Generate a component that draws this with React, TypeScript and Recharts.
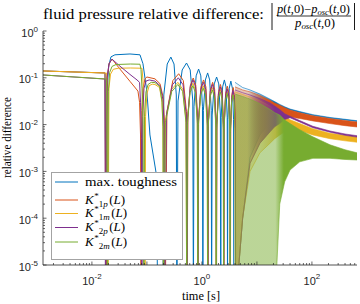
import React from 'react';
import { ComposedChart, Line, Area, XAxis, YAxis, Legend } from 'recharts';

type P = [number, number];

// ---------------- data (time [s], relative difference) ----------------
const maxToughness: P[] = [
  [0.00129, 0.14], [0.0173, 0.127], [0.0183, 1e-6], [0.019, 0.06], [0.0202, 0.18], [0.0222, 0.28],
  [0.0262, 0.31], [0.0492, 0.323], [0.0748, 0.31], [0.0847, 0.2], [0.1, 0.05], [0.1135, 0.006],
  [0.15, 0.0008], [0.157, 1e-6], [0.195, 1e-6],
  [0.2028, 0.043], [0.234, 0.197], [0.2725, 0.277], [0.311, 0.197], [0.342, 0.043], [0.35, 1e-6],
  [0.3675, 0.032], [0.4375, 0.147], [0.525, 0.207], [0.6125, 0.147], [0.6825, 0.032], [0.7, 1e-6],
  [0.717, 0.024], [0.785, 0.11], [0.87, 0.154], [0.955, 0.11], [1.023, 0.024], [1.04, 1e-6],
  [1.063, 0.02], [1.155, 0.09], [1.27, 0.127], [1.385, 0.09], [1.477, 0.02], [1.5, 1e-6],
  [1.535, 0.016], [1.675, 0.074], [1.85, 0.104], [2.025, 0.074], [2.165, 0.016], [2.2, 1e-6],
  [2.236, 0.014], [2.38, 0.064], [2.56, 0.09], [2.74, 0.064], [2.884, 0.014], [2.92, 1e-6],
  [2.964, 0.013], [3.14, 0.06], [3.36, 0.085], [3.58, 0.06], [3.756, 0.013], [3.8, 1e-6],
];

const k1p: P[] = [
  [0.00129, 0.14], [0.0173, 0.127], [0.018, 1e-6], [0.019, 0.1], [0.0205, 0.2], [0.0232, 0.252],
  [0.0324, 0.153], [0.0492, 0.084], [0.0687, 0.052], [0.0735, 0.03], [0.0765, 0.006], [0.078, 1e-6],
  [0.0805, 0.02], [0.0847, 0.06], [0.0923, 0.095], [0.1, 0.104], [0.14, 0.095], [0.1726, 0.075],
  [0.196, 0.04], [0.208, 0.012], [0.215, 1e-6],
  [0.231, 0.019], [0.296, 0.087], [0.378, 0.122], [0.459, 0.087], [0.524, 0.019], [0.54, 1e-6],
  [0.5555, 0.015], [0.6175, 0.07], [0.695, 0.099], [0.7725, 0.07], [0.8345, 0.015], [0.85, 1e-6],
  [0.872, 0.014], [0.96, 0.064], [1.07, 0.09], [1.18, 0.064], [1.268, 0.014], [1.29, 1e-6],
  [1.3175, 0.0125], [1.4275, 0.057], [1.565, 0.08], [1.7025, 0.057], [1.8125, 0.0125], [1.84, 1e-6],
  [1.873, 0.011], [2.005, 0.051], [2.17, 0.072], [2.335, 0.051], [2.467, 0.011], [2.5, 1e-6],
  [2.54, 0.01], [2.7, 0.047], [2.9, 0.066], [3.1, 0.047], [3.26, 0.01], [3.3, 1e-6],
  [3.34, 0.0097], [3.5, 0.044], [3.7, 0.062], [3.9, 0.044], [4.06, 0.0097], [4.1, 1e-6],
];

const k1m: P[] = [
  [0.00129, 0.14], [0.0185, 0.126], [0.0196, 1e-6], [0.0204, 0.06], [0.0218, 0.12], [0.0245, 0.152],
  [0.03, 0.16], [0.05, 0.162], [0.0813, 0.16], [0.0847, 0.09], [0.0885, 0.02], [0.0915, 0.002], [0.0923, 1e-6],
  [0.0945, 0.015], [0.1, 0.045], [0.11, 0.068], [0.125, 0.073], [0.14, 0.072], [0.17, 0.062],
  [0.188, 0.03], [0.196, 0.008], [0.2, 1e-6],
  [0.2165, 0.0125], [0.2825, 0.057], [0.365, 0.08], [0.4475, 0.057], [0.5135, 0.0125], [0.53, 1e-6],
  [0.5455, 0.012], [0.6075, 0.055], [0.685, 0.077], [0.7625, 0.055], [0.8245, 0.012], [0.84, 1e-6],
  [0.8615, 0.0106], [0.9475, 0.048], [1.055, 0.068], [1.1625, 0.048], [1.2485, 0.0106], [1.27, 1e-6],
  [1.2975, 0.0097], [1.4075, 0.044], [1.545, 0.062], [1.6825, 0.044], [1.7925, 0.0097], [1.82, 1e-6],
  [1.853, 0.0087], [1.985, 0.04], [2.15, 0.056], [2.315, 0.04], [2.447, 0.0087], [2.48, 1e-6],
  [2.519, 0.0078], [2.675, 0.0355], [2.87, 0.05], [3.065, 0.0355], [3.221, 0.0078], [3.26, 1e-6],
  [3.3, 0.0073], [3.46, 0.033], [3.66, 0.047], [3.86, 0.033], [4.02, 0.0073], [4.06, 1e-6],
];

const k2p: P[] = [
  [0.00129, 0.115], [0.0173, 0.094], [0.0176, 1e-6], [0.0188, 0.1], [0.0205, 0.2], [0.0232, 0.25],
  [0.0324, 0.177], [0.0492, 0.118], [0.066, 0.09], [0.0735, 0.08], [0.0765, 0.03], [0.0795, 0.005], [0.081, 1e-6],
  [0.0835, 0.015], [0.0885, 0.06], [0.0962, 0.085], [0.11, 0.09], [0.14, 0.085], [0.1726, 0.068],
  [0.195, 0.035], [0.205, 0.01], [0.21, 1e-6],
  [0.226, 0.016], [0.291, 0.071], [0.3725, 0.1], [0.454, 0.071], [0.519, 0.016], [0.535, 1e-6],
  [0.5505, 0.014], [0.6125, 0.064], [0.69, 0.09], [0.7675, 0.064], [0.8295, 0.014], [0.845, 1e-6],
  [0.867, 0.0125], [0.954, 0.057], [1.0625, 0.08], [1.171, 0.057], [1.258, 0.0125], [1.28, 1e-6],
  [1.3075, 0.011], [1.4175, 0.051], [1.555, 0.072], [1.6925, 0.051], [1.8025, 0.011], [1.83, 1e-6],
  [1.863, 0.01], [1.995, 0.045], [2.16, 0.064], [2.325, 0.045], [2.457, 0.01], [2.49, 1e-6],
  [2.53, 0.009], [2.6875, 0.041], [2.885, 0.058], [3.0825, 0.041], [3.24, 0.009], [3.28, 1e-6],
  [3.32, 0.0084], [3.48, 0.038], [3.68, 0.054], [3.88, 0.038], [4.04, 0.0084], [4.08, 1e-6],
];

const k2m: P[] = [
  [0.00129, 0.115], [0.0185, 0.094], [0.0192, 1e-6], [0.0199, 0.05], [0.021, 0.13], [0.0232, 0.175],
  [0.0274, 0.192], [0.05, 0.197], [0.0748, 0.195], [0.078, 0.15], [0.0813, 0.06], [0.085, 0.01], [0.088, 1e-6],
  [0.0905, 0.015], [0.096, 0.05], [0.105, 0.072], [0.12, 0.08], [0.14, 0.079], [0.17, 0.066],
  [0.188, 0.032], [0.196, 0.009], [0.2, 1e-6],
  [0.2165, 0.011], [0.2825, 0.051], [0.365, 0.072], [0.4475, 0.051], [0.5135, 0.011], [0.53, 1e-6],
  [0.5455, 0.0106], [0.6075, 0.048], [0.685, 0.068], [0.7625, 0.048], [0.8245, 0.0106], [0.84, 1e-6],
  [0.8615, 0.0094], [0.9475, 0.0425], [1.055, 0.06], [1.1625, 0.0425], [1.2485, 0.0094], [1.27, 1e-6],
  [1.2975, 0.0086], [1.4075, 0.039], [1.545, 0.055], [1.6825, 0.039], [1.7925, 0.0086], [1.82, 1e-6],
  [1.853, 0.0078], [1.985, 0.0355], [2.15, 0.05], [2.315, 0.0355], [2.447, 0.0078], [2.48, 1e-6],
  [2.519, 0.0072], [2.675, 0.0327], [2.87, 0.046], [3.065, 0.0327], [3.221, 0.0072], [3.26, 1e-6],
  [3.3, 0.0067], [3.46, 0.0305], [3.66, 0.043], [3.86, 0.0305], [4.02, 0.0067], [4.06, 1e-6],
];

// dense oscillation envelopes (lower, upper) after t ~ 4 s
const bandT = [4, 5.5, 7.5, 11.35, 17.3, 21, 26, 32, 40, 60, 104, 213, 400, 660];
const blueHi = [0.08, 0.062, 0.055, 0.045, 0.035, 0.031, 0.027, 0.024, 0.0215, 0.019, 0.0163, 0.0142, 0.013, 0.0121];
const blueLo = [1e-6, 1e-4, 0.002, 0.006, 0.011, 0.014, 0.017, 0.019, 0.0205, 0.018, 0.0156, 0.0136, 0.0125, 0.0117];
const orangeHi = [0.064, 0.055, 0.05, 0.042, 0.033, 0.029, 0.026, 0.023, 0.0205, 0.018, 0.0155, 0.0135, 0.0122, 0.0114];
const orangeLo = [1e-6, 1e-4, 0.0015, 0.004, 0.007, 0.009, 0.011, 0.013, 0.0145, 0.0135, 0.012, 0.0105, 0.0095, 0.0089];
const yellowHi = [0.05, 0.044, 0.039, 0.032, 0.025, 0.021, 0.018, 0.015, 0.0127, 0.0105, 0.0082, 0.0065, 0.0059, 0.0056];
const yellowLo = [1e-6, 1e-4, 0.001, 0.0025, 0.004, 0.005, 0.006, 0.007, 0.0085, 0.0075, 0.006, 0.005, 0.0045, 0.0042];
const purpleHi = [0.055, 0.048, 0.043, 0.036, 0.029, 0.025, 0.021, 0.017, 0.015, 0.0122, 0.0092, 0.0073, 0.0063, 0.0058];
const purpleLo = [1e-6, 1e-4, 0.0015, 0.004, 0.007, 0.009, 0.0105, 0.0128, 0.014, 0.0114, 0.0086, 0.0069, 0.0059, 0.0054];
const greenHi = [0.045, 0.04, 0.035, 0.028, 0.021, 0.018, 0.016, 0.0125, 0.0105, 0.0078, 0.0055, 0.0037, 0.0029, 0.0025];
const greenLo = [1e-6, 1e-6, 1e-6, 1e-6, 1e-6, 1e-6, 2e-4, 6e-4, 0.00107, 0.0016, 0.0019, 0.0019, 0.0018, 0.00175];

const seriesSubs = ['', '1p', '1m', '2p', '2m'];
const seriesLabels = ['max. toughness', 'K*1p(L)', 'K*1m(L)', 'K*2p(L)', 'K*2m(L)'];
const colors = ['#0072BD', '#D95319', '#EDB120', '#7E2F8E', '#77AC30'];

const xDomain: [number, number] = [0.00129, 660];
const yDomain: [number, number] = [1e-5, 1];
const xLabelExps = [-2, 0, 2];
const minorMults = [2, 3, 4, 5, 6, 7, 8, 9];
const xDecades = [-3, -2, -1, 0, 1, 2];
const yDecades = [-5, -4, -3, -2, -1];

// ---------------- build ----------------
const toPts = (a: P[]) => a.map(([t, v]) => ({ t, v }));
const toBand = (lo: number[], hi: number[]) => bandT.map((t, i) => ({ t, r: [lo[i], hi[i]] }));

const lineData = [maxToughness, k1p, k1m, k2p, k2m].map(toPts);
const bandData = [
  toBand(blueLo, blueHi),
  toBand(orangeLo, orangeHi),
  toBand(yellowLo, yellowHi),
  toBand(purpleLo, purpleHi),
  toBand(greenLo, greenHi),
];

// curtain (dense oscillation) opacity and where the band becomes solid
const curtainOpacity = [0.07, 0.3, 0.3, 0.07, 0.5];
const curtainEnd = [0.1, 0.12, 0.2, 0.1, 0.33];
const solidFrom = [0.33, 0.28, 0.4, 0.33, 0.4];

const tickSet = (decs: number[], lo: number, hi: number) => {
  const out: number[] = [];
  decs.forEach((d) => {
    const base = Math.pow(10, d);
    if (base >= lo && base <= hi) out.push(base);
    minorMults.forEach((m) => {
      const v = m * base;
      if (v >= lo && v <= hi) out.push(v);
    });
  });
  if (hi >= 1 && lo <= 1 && !out.includes(1)) out.push(1);
  return out.sort((a, b) => a - b);
};
const xTicks = tickSet(xDecades, xDomain[0], xDomain[1]);
const yTicks = tickSet([...yDecades, 0], yDomain[0], yDomain[1]);

const AX = '#262626';
const SANS = "'Liberation Sans', Arial, Helvetica, sans-serif";
const SERIF = "'Liberation Serif', 'Times New Roman', serif";
const MAJ = 3.5;
const MIN = 2;

const isMajor = (v: number) => Math.abs(Math.log10(v) - Math.round(Math.log10(v))) < 1e-9;
const expOf = (v: number) => Math.round(Math.log10(v));

function BottomTick(props: any) {
  const { x, y, payload } = props;
  const v = payload.value;
  const major = isMajor(v);
  const e = expOf(v);
  return (
    <g>
      <line x1={x} y1={y} x2={x} y2={y - (major ? MAJ : MIN)} stroke={AX} strokeWidth={0.7} />
      {major && xLabelExps.includes(e) ? (
        <text x={x} y={y + 20} textAnchor="middle" fill={AX} fontSize={11} fontFamily={SANS}>
          10<tspan dy={-6} fontSize={8}>{String(e)}</tspan>
        </text>
      ) : null}
    </g>
  );
}

function TopTick(props: any) {
  const { x, y, payload } = props;
  const major = isMajor(payload.value);
  return <line x1={x} y1={y} x2={x} y2={y + (major ? MAJ : MIN)} stroke={AX} strokeWidth={0.7} />;
}

function LeftTick(props: any) {
  const { x, y, payload } = props;
  const v = payload.value;
  const major = isMajor(v);
  const e = expOf(v);
  return (
    <g>
      <line x1={x} y1={y} x2={x + (major ? MAJ : MIN)} y2={y} stroke={AX} strokeWidth={0.7} />
      {major ? (
        <text x={x - 5} y={y + 5.5} textAnchor="end" fill={AX} fontSize={11} fontFamily={SANS}>
          10<tspan dy={-5} fontSize={8}>{String(e)}</tspan>
        </text>
      ) : null}
    </g>
  );
}

function RightTick(props: any) {
  const { x, y, payload } = props;
  const major = isMajor(payload.value);
  return <line x1={x} y1={y} x2={x - (major ? MAJ : MIN)} y2={y} stroke={AX} strokeWidth={0.7} />;
}

const legendRowY = [10, 28, 41.5, 55.5, 70];

function LegendLabel({ i, y }: { i: number; y: number }) {
  if (i === 0) {
    return (
      <text x={34} y={y + 4} fontSize={13.5} fontFamily={SERIF} fill="#000" textLength={92} lengthAdjust="spacingAndGlyphs">
        {seriesLabels[0]}
      </text>
    );
  }
  const sub = seriesSubs[i];
  return (
    <text x={34} y={y + 3.5} fontSize={13} fontFamily={SERIF} fill="#000">
      <tspan fontStyle="italic">K</tspan>
      <tspan fontSize={9} dy={-5} dx={0.5}>*</tspan>
      <tspan fontSize={9} dx={0} dy={8}>{sub[0]}</tspan>
      <tspan fontSize={9} fontStyle="italic">{sub[1]}</tspan>
      <tspan dy={-3} dx={1.5}>(</tspan>
      <tspan fontStyle="italic">L</tspan>
      <tspan>)</tspan>
    </text>
  );
}

function LegendBox() {
  return (
    <svg width={132} height={88} style={{ display: 'block' }}>
      <rect x={0.5} y={0.5} width={131} height={87} fill="#fff" stroke="#a3a3a3" strokeWidth={1} />
      {colors.map((c, i) => (
        <g key={i}>
          <line x1={4} y1={legendRowY[i]} x2={27} y2={legendRowY[i]} stroke={c} strokeWidth={1} />
          <LegendLabel i={i} y={legendRowY[i]} />
        </g>
      ))}
    </svg>
  );
}

export default function App() {
  return (
    <div style={{ position: 'absolute', left: 0, top: 0, width: 360, height: 304, background: '#fff' }}>
      <ComposedChart width={360} height={304} margin={{ top: 31, right: 3, bottom: 9, left: 0 }}>
        <XAxis
          dataKey="t" type="number" scale="log" domain={xDomain} allowDataOverflow
          ticks={xTicks} interval={0} tick={BottomTick} tickLine={false} tickSize={0} tickMargin={0}
          height={30} axisLine={{ stroke: AX, strokeWidth: 0.8 }}
        />
        <XAxis
          xAxisId="top" orientation="top" dataKey="t" type="number" scale="log" domain={xDomain} allowDataOverflow
          ticks={xTicks} interval={0} tick={TopTick} tickLine={false} tickSize={0} tickMargin={0}
          height={0} axisLine={{ stroke: AX, strokeWidth: 0.8 }}
        />
        <YAxis
          type="number" scale="log" domain={yDomain} allowDataOverflow
          ticks={yTicks} interval={0} tick={LeftTick} tickLine={false} tickSize={0} tickMargin={0}
          width={43} axisLine={{ stroke: AX, strokeWidth: 0.8 }}
        />
        <YAxis
          yAxisId="right" orientation="right" type="number" scale="log" domain={yDomain} allowDataOverflow
          ticks={yTicks} interval={0} tick={RightTick} tickLine={false} tickSize={0} tickMargin={0}
          width={0} axisLine={{ stroke: AX, strokeWidth: 0.8 }}
        />
        {bandData.map((d, i) => (
          <Area
            key={`a${i}`} data={d} dataKey="r" type="linear" fill={`url(#band${i})`} fillOpacity={1}
            stroke={colors[i]} strokeWidth={0.6} isAnimationActive={false} legendType="none"
            dot={false} activeDot={false}
          />
        ))}
        {lineData.map((d, i) => (
          <Line
            key={`l${i}`} data={d} dataKey="v" type="linear" stroke={colors[i]} strokeWidth={1}
            dot={false} activeDot={false} isAnimationActive={false} legendType="none"
          />
        ))}
        <Legend
          layout="vertical" align="center" verticalAlign="middle"
          wrapperStyle={{ left: 51, top: 172, width: 132, height: 88, margin: 0, padding: 0 }}
          content={LegendBox}
        />
      </ComposedChart>
      <svg width={360} height={304} style={{ position: 'absolute', left: 0, top: 0, pointerEvents: 'none' }}>
        <defs>
          {colors.map((c, i) => (
            <linearGradient key={i} id={`band${i}`} x1="0" y1="0" x2="1" y2="0">
              <stop offset="0" stopColor={c} stopOpacity={curtainOpacity[i]} />
              <stop offset={String(curtainEnd[i])} stopColor={c} stopOpacity={curtainOpacity[i]} />
              <stop offset={String(solidFrom[i])} stopColor={c} stopOpacity={1} />
              <stop offset="1" stopColor={c} stopOpacity={1} />
            </linearGradient>
          ))}
        </defs>
        <text x={43} y={19} fontSize={14.5} fontFamily={SERIF} fill="#000" textLength={221} lengthAdjust="spacingAndGlyphs">
          fluid pressure relative difference:
        </text>
        <line x1={272} y1={3} x2={272} y2={30} stroke="#000" strokeWidth={0.9} />
        <line x1={354.5} y1={3} x2={354.5} y2={30} stroke="#000" strokeWidth={0.9} />
        <text x={277} y={12.5} fontSize={11.5} fontFamily={SERIF} fill="#000" textLength={73} lengthAdjust="spacingAndGlyphs">
          <tspan fontStyle="italic">p</tspan>(<tspan fontStyle="italic">t</tspan>,0)−<tspan fontStyle="italic">p</tspan>
          <tspan fontSize={8} fontStyle="italic" dy={2}>osc</tspan>
          <tspan dy={-2}>(</tspan><tspan fontStyle="italic">t</tspan>,0)
        </text>
        <line x1={277} y1={16} x2={351} y2={16} stroke="#000" strokeWidth={0.8} />
        <text x={295} y={26.5} fontSize={11.5} fontFamily={SERIF} fill="#000" textLength={40} lengthAdjust="spacingAndGlyphs">
          <tspan fontStyle="italic">p</tspan>
          <tspan fontSize={8} fontStyle="italic" dy={2}>osc</tspan>
          <tspan dy={-2}>(</tspan><tspan fontStyle="italic">t</tspan>,0)
        </text>
        <text transform="translate(11,137.5) rotate(-90)" textAnchor="middle" fontSize={12.5} fontFamily={SERIF} fill="#000" textLength={81} lengthAdjust="spacingAndGlyphs">
          relative difference
        </text>
        <text x={201} y={300} textAnchor="middle" fontSize={12.5} fontFamily={SERIF} fill="#000" textLength={38} lengthAdjust="spacingAndGlyphs">
          time [s]
        </text>
      </svg>
    </div>
  );
}
